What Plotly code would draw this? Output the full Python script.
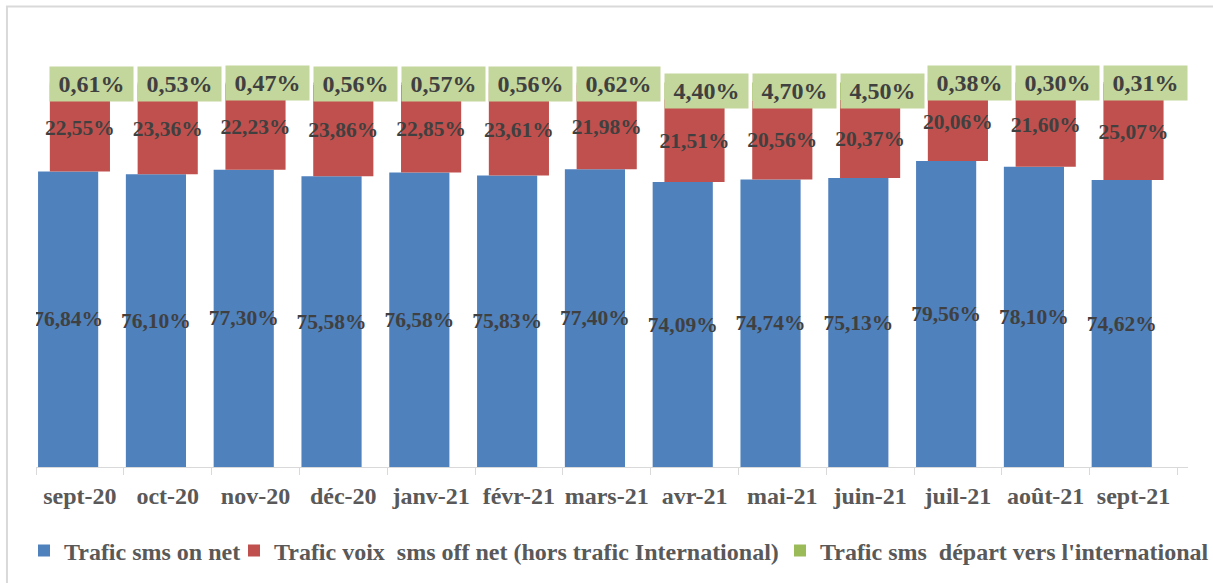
import plotly.graph_objects as go

months = ["sept-20", "oct-20", "nov-20", "déc-20", "janv-21", "févr-21", "mars-21",
          "avr-21", "mai-21", "juin-21", "juil-21", "août-21", "sept-21"]
on_net = [76.84, 76.10, 77.30, 75.58, 76.58, 75.83, 77.40, 74.09, 74.74, 75.13, 79.56, 78.10, 74.62]
off_net = [22.55, 23.36, 22.23, 23.86, 22.85, 23.61, 21.98, 21.51, 20.56, 20.37, 20.06, 21.60, 25.07]
intl = [0.61, 0.53, 0.47, 0.56, 0.57, 0.56, 0.62, 4.40, 4.70, 4.50, 0.38, 0.30, 0.31]

names = ["Trafic sms on net",
         "Trafic voix \u00a0sms off net (hors trafic International)",
         "Trafic sms \u00a0départ vers l'international"]

BLUE, RED, GREEN, LGREEN = "#4F81BD", "#C0504D", "#9BBB59", "#C3D69B"
FONT = "Liberation Serif, Times New Roman, serif"

def fmt(v):
    return f"{v:.2f}%".replace(".", ",")

base_red = on_net
base_green = [a + b for a, b in zip(on_net, off_net)]

W = 0.685
fig = go.Figure()
fig.add_bar(x=months, y=on_net, name=names[0], marker_color=BLUE, legend="legend",
            width=W, offset=-W / 2 - 0.134,
            text=[fmt(v) for v in on_net], textposition="inside",
            insidetextanchor="middle", textangle=0, constraintext="none",
            textfont=dict(family=FONT, size=21.5, color="#404040", weight="bold"))
fig.add_bar(x=months, y=off_net, base=base_red, name=names[1], marker_color=RED,
            legend="legend2", width=W, offset=-W / 2,
            text=[fmt(v) for v in off_net], textposition="inside",
            insidetextanchor="middle", textangle=0, constraintext="none",
            textfont=dict(family=FONT, size=21.5, color="#404040", weight="bold"))
fig.add_bar(x=months, y=intl, base=base_green, name=names[2], marker_color=GREEN,
            legend="legend3", width=W, offset=-W / 2)

for m, b, g in zip(months, base_green, intl):
    fig.add_annotation(x=m, y=b + g / 2, xref="x", yref="y", xshift=12,
                       text=fmt(g), showarrow=False, bgcolor=LGREEN,
                       width=83, height=34, borderpad=0,
                       font=dict(family=FONT, size=24, color="#404040", weight="bold"))

fig.add_shape(type="rect", xref="paper", yref="paper",
              x0=-0.0252, x1=1.05, y0=-0.5, y1=1.0887,
              line=dict(color="#D9D9D9", width=2), fillcolor="rgba(0,0,0,0)",
              layer="below")

legfont = dict(family=FONT, size=24, color="#595959", weight="bold")
def leg(xpx):
    return dict(orientation="h", xref="container", yref="container",
                x=xpx / 1213, xanchor="left", y=(583 - 551) / 583, yanchor="middle",
                font=legfont, itemwidth=30, bgcolor="rgba(0,0,0,0)", borderwidth=0)

fig.update_layout(
    template="none",
    width=1213, height=583,
    margin=dict(l=36, r=25, t=44, b=116, autoexpand=False),
    barmode="overlay",
    plot_bgcolor="white", paper_bgcolor="white",
    font=dict(family=FONT, color="#595959"),
    xaxis=dict(type="category", showgrid=False, showline=True, linecolor="#D9D9D9",
               linewidth=1, ticks="outside", tickson="boundaries", ticklen=7,
               tickcolor="#D9D9D9", tickwidth=1, ticklabelstandoff=7, tickangle=0,
               automargin=False, zeroline=False,
               tickfont=dict(family=FONT, size=24, color="#595959", weight="bold")),
    yaxis=dict(range=[0, 110], visible=False, showgrid=False, zeroline=False,
               automargin=False),
    legend=leg(24),
    legend2=leg(234),
    legend3=leg(780),
    showlegend=True,
)

fig.write_html("out.html", config={"displayModeBar": False},
               post_script="document.body.style.margin='0';document.body.style.padding='0';")
